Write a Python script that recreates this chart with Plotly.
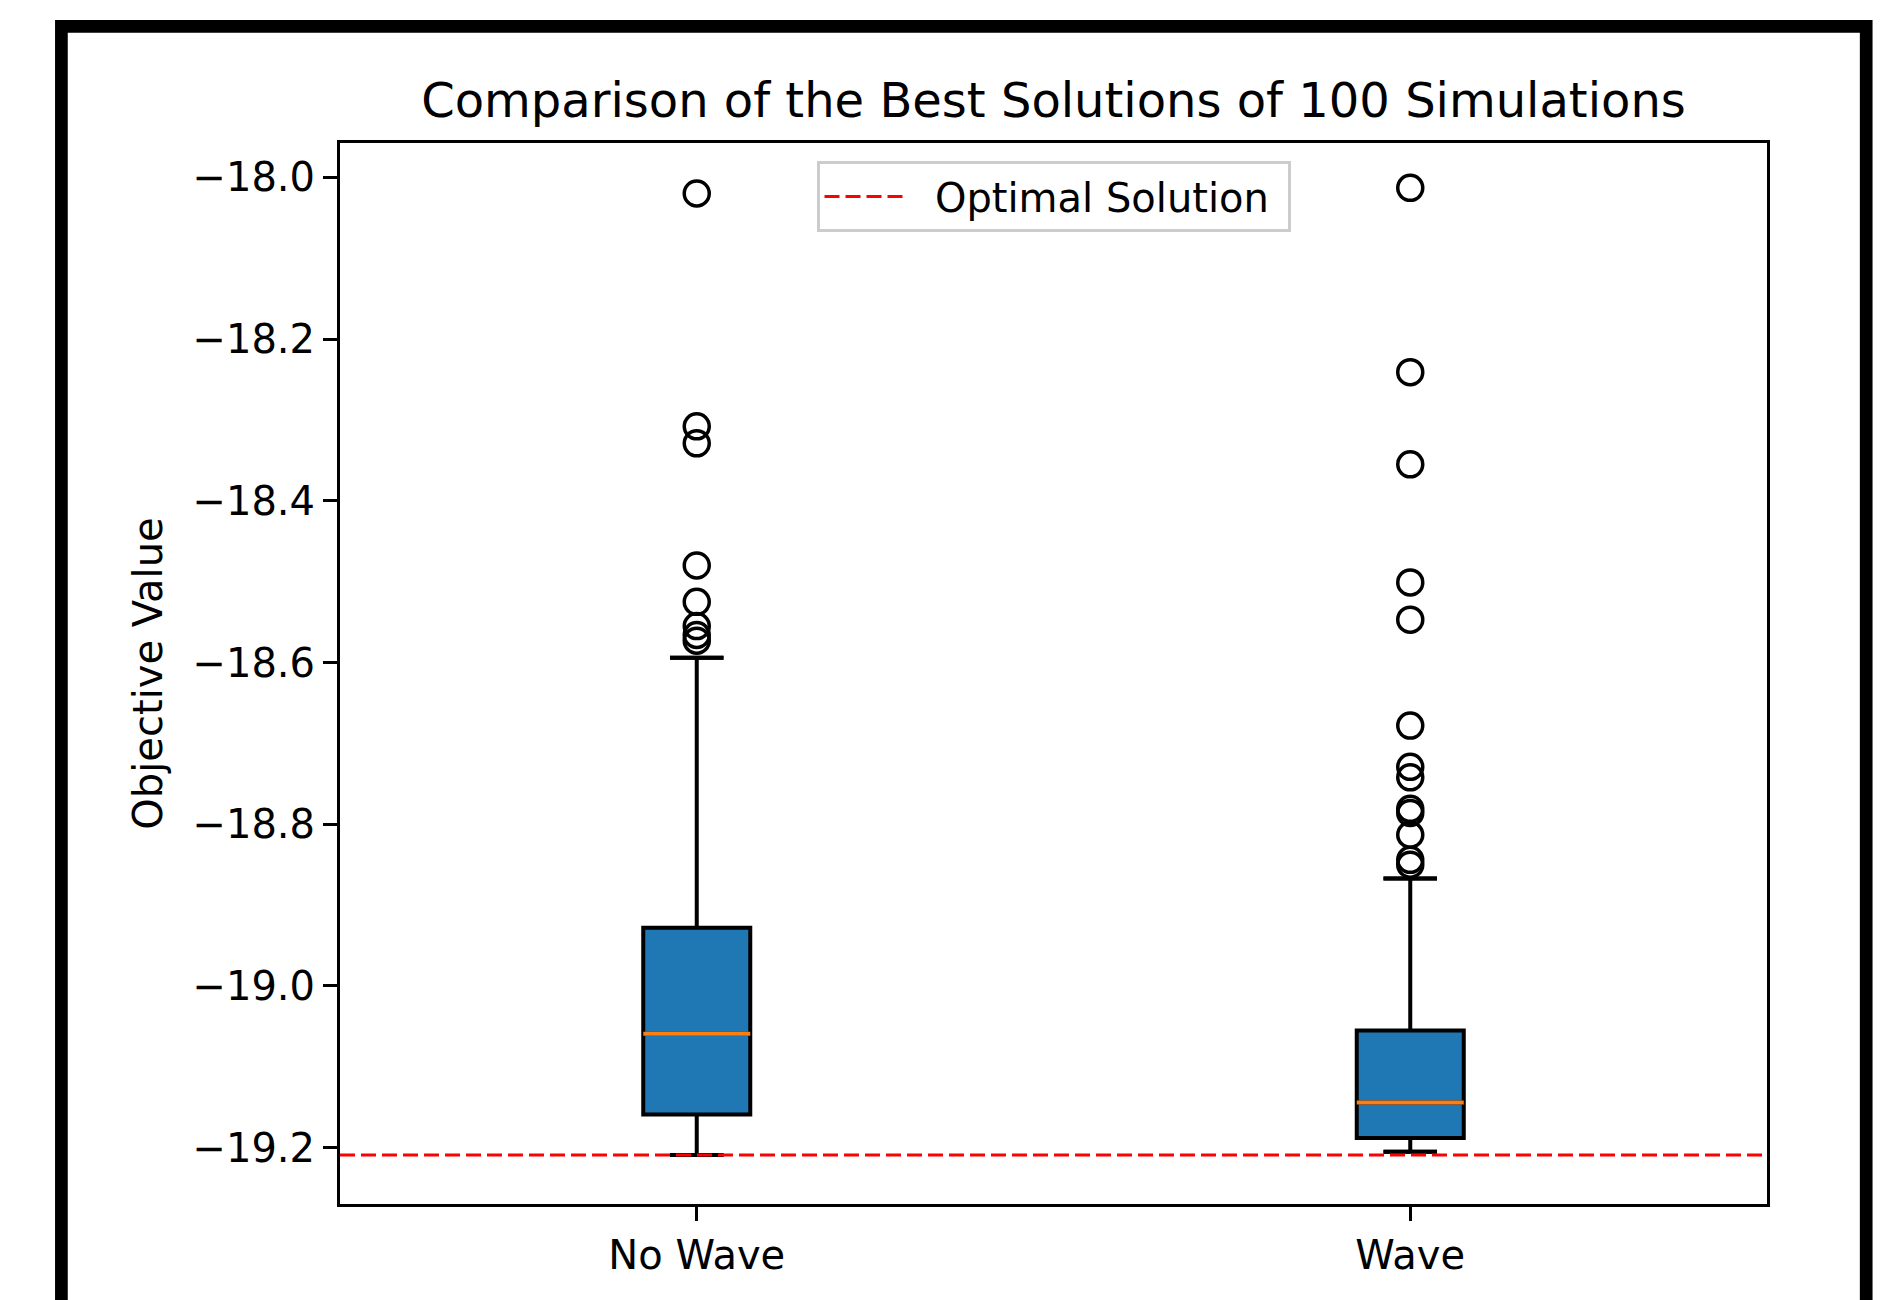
import plotly.graph_objects as go

# ---------------- data ----------------
categories = ["No Wave", "Wave"]
positions = [1, 2]
lower_fence = [-19.209, -19.205]
q1 = [-19.159, -19.188]
median = [-19.059, -19.144]
q3 = [-18.928, -19.055]
upper_fence = [-18.594, -18.867]
outliers_no_wave = [-18.020, -18.308, -18.329, -18.480, -18.525, -18.555, -18.566, -18.573]
outliers_wave = [-18.013, -18.241, -18.355, -18.501, -18.547, -18.678, -18.729, -18.742,
                 -18.781, -18.786, -18.813, -18.844, -18.850]
optimal_value = -19.209
y_ticks = [-18.0, -18.2, -18.4, -18.6, -18.8, -19.0, -19.2]

# ---------------- layout geometry ----------------
W, H = 1903, 1300
ML, MR, MT, MB = 340, 136, 143, 96
PW, PH = W - ML - MR, H - MT - MB
BOX_W = 0.15
FONT = "DejaVu Sans"


def px_x(px):
    return (px - ML) / PW


def px_y(py):
    return (H - MB - py) / PH


fig = go.Figure()

fig.add_trace(go.Box(
    x=positions, q1=q1, median=median, q3=q3,
    lowerfence=lower_fence, upperfence=upper_fence,
    width=BOX_W, fillcolor="#1f77b4",
    line=dict(color="black", width=4),
    boxpoints=False, showlegend=False, hoverinfo="skip",
))

# whisker caps
cap_x, cap_y = [], []
for p, lo, hi in zip(positions, lower_fence, upper_fence):
    for v in (lo, hi):
        cap_x += [p - BOX_W / 4, p + BOX_W / 4, None]
        cap_y += [v, v, None]
fig.add_trace(go.Scatter(x=cap_x, y=cap_y, mode="lines",
                         line=dict(color="black", width=4),
                         showlegend=False, hoverinfo="skip"))

# medians
med_x, med_y = [], []
for p, m in zip(positions, median):
    med_x += [p - BOX_W / 2, p + BOX_W / 2, None]
    med_y += [m, m, None]
fig.add_trace(go.Scatter(x=med_x, y=med_y, mode="lines",
                         line=dict(color="#ff7f0e", width=4),
                         showlegend=False, hoverinfo="skip"))

# outliers
for p, outs in zip(positions, [outliers_no_wave, outliers_wave]):
    fig.add_trace(go.Scatter(
        x=[p] * len(outs), y=outs, mode="markers",
        marker=dict(symbol="circle-open", size=25, color="black",
                    line=dict(width=3.5, color="black")),
        showlegend=False, hoverinfo="skip"))

# optimal solution line
fig.add_trace(go.Scatter(
    x=[0.5, 2.5], y=[optimal_value, optimal_value], mode="lines",
    line=dict(color="red", width=3, dash="15px,6px"),
    name="\u00a0\u00a0Optimal Solution\u00a0"))

axis_common = dict(
    showline=True, linecolor="black", linewidth=3, mirror=True,
    ticks="outside", ticklen=14, tickwidth=3, tickcolor="black",
    showgrid=False, zeroline=False,
    tickfont=dict(family=FONT, size=40, color="black"),
)

fig.update_layout(
    width=W, height=H,
    margin=dict(l=ML, r=MR, t=MT, b=MB),
    paper_bgcolor="white", plot_bgcolor="white",
    font=dict(family=FONT, size=40, color="black"),
    title=dict(text="Comparison of the Best Solutions of 100 Simulations",
               font=dict(family=FONT, size=48, color="black"),
               x=0.5, xref="paper", xanchor="center",
               y=1 - 100 / H, yref="container", yanchor="middle"),
    xaxis=dict(range=[0.5, 2.5], tickvals=positions, ticktext=categories,
               **axis_common),
    yaxis=dict(range=[-19.2696, -17.9576], tickvals=y_ticks, tickformat=".1f",
               title=dict(text="Objective Value",
                          font=dict(family=FONT, size=40, color="black"),
                          standoff=18),
               **axis_common),
    legend=dict(x=0.5, xanchor="center", y=px_y(161), yanchor="top",
                bgcolor="white", bordercolor="#cccccc", borderwidth=3,
                font=dict(family=FONT, size=40, color="black"),
                itemwidth=80),
    shapes=[dict(type="rect", xref="paper", yref="paper",
                 x0=px_x(61.4), x1=px_x(1866.2), y0=px_y(1340), y1=px_y(26.4),
                 line=dict(color="black", width=12.7), fillcolor="rgba(0,0,0,0)",
                 layer="above")],
)

fig.write_html("out.html",
               config={"displayModeBar": False},
               post_script="document.body.style.margin='0';document.body.style.overflow='hidden';")
